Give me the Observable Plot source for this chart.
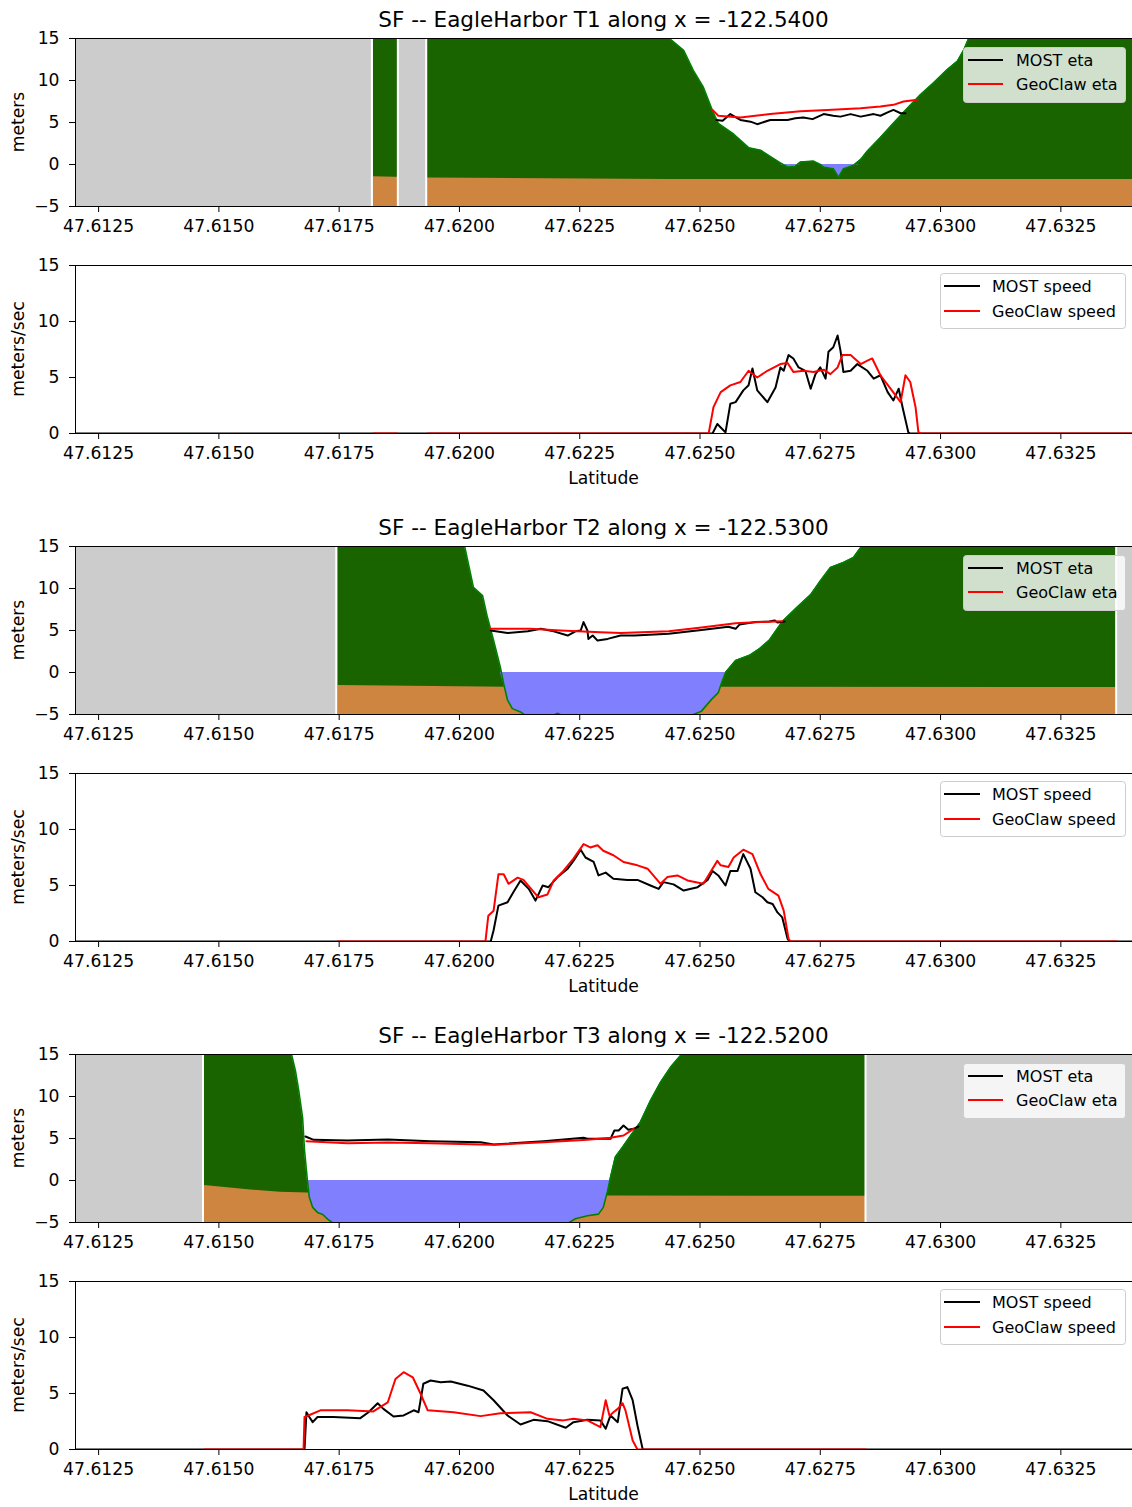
<!DOCTYPE html>
<html><head><meta charset="utf-8">
<script src="https://cdn.jsdelivr.net/npm/d3@7"></script>
<script src="https://cdn.jsdelivr.net/npm/@observablehq/plot@0.6"></script>
<style>
html,body{margin:0;padding:0;background:#fff;overflow:hidden;}
#root{position:relative;width:1132px;height:1507px;overflow:hidden;font-family:"DejaVu Sans",sans-serif;}
.panel{position:absolute;left:0;width:1140px;}
#overlay{position:absolute;left:0;top:0;pointer-events:none;}
</style></head><body><div id="root"></div>
<script>
// ---------- shared axes ----------
const latTicks = [47.6125, 47.6150, 47.6175, 47.6200, 47.6225, 47.6250, 47.6275, 47.6300, 47.6325];
const latDomain = [47.61202, 47.63401];
const etaDomain = [-5, 15];
const etaTicks = [-5, 0, 5, 10, 15];
const speedDomain = [0, 15];
const speedTicks = [0, 5, 10, 15];
const titles = [
  "SF -- EagleHarbor T1 along x = -122.5400",
  "SF -- EagleHarbor T2 along x = -122.5300",
  "SF -- EagleHarbor T3 along x = -122.5200"
];
const etaLegend = ["MOST eta", "GeoClaw eta"];
const speedLegend = ["MOST speed", "GeoClaw speed"];
const xLabel = "Latitude";
const etaYLabel = "meters";
const speedYLabel = "meters/sec";

// ---------- T1 ----------
const t1Grey = [[47.6120, 47.61819], [47.61873, 47.61932]];
const t1Topo = [[47.61821,20],[47.62426,15.5],[47.62466,13.6],[47.62486,11.2],[47.62507,9.2],[47.62526,6.4],[47.62538,4.9],[47.62568,3.7],[47.62601,2.0],[47.62626,1.7],[47.62653,0.7],[47.62667,0.2],[47.62682,-0.3],[47.62698,-0.2],[47.62709,0.3],[47.62736,0.4],[47.62750,0.0],[47.62757,-0.3],[47.62777,-0.5],[47.62788,-1.5],[47.62798,-0.5],[47.62819,-0.1],[47.62834,0.6],[47.62848,1.6],[47.62875,3.2],[47.62902,4.9],[47.62931,6.7],[47.62958,8.3],[47.62985,9.7],[47.63014,11.3],[47.63035,12.3],[47.63048,13.6],[47.63062,15.5],[47.6341,20]];
const t1Bed = [[47.61821,-1.45],[47.61934,-1.6],[47.62430,-1.8],[47.6341,-1.8]];
const t1MostEta = [[47.62534,5.3],[47.62547,5.2],[47.62563,6.0],[47.62584,5.3],[47.62605,5.1],[47.62619,4.8],[47.62646,5.3],[47.62682,5.3],[47.62698,5.5],[47.62715,5.6],[47.62734,5.4],[47.62757,6.0],[47.62777,5.8],[47.62792,5.7],[47.62813,6.0],[47.62834,5.7],[47.62861,6.0],[47.62875,5.8],[47.62890,6.2],[47.62902,6.5],[47.62917,6.1],[47.62927,6.1]];
const t1GeoEta = [[47.62526,6.5],[47.62538,5.8],[47.62584,5.6],[47.62646,6.0],[47.62709,6.35],[47.62765,6.5],[47.62834,6.7],[47.62875,6.9],[47.62902,7.1],[47.62923,7.5],[47.62952,7.7]];
const t1MostSpeed = [[47.6120,0],[47.62526,0],[47.62536,0.85],[47.62553,0.1],[47.62563,2.65],[47.62574,2.8],[47.62590,3.85],[47.62601,4.3],[47.62609,5.8],[47.62619,3.85],[47.62640,2.8],[47.62657,4.1],[47.62667,5.9],[47.62674,5.6],[47.62684,7.0],[47.62694,6.7],[47.62705,5.9],[47.62719,5.6],[47.62730,4.0],[47.62740,5.3],[47.62750,5.9],[47.62761,4.9],[47.62767,7.3],[47.62777,7.7],[47.62786,8.75],[47.62792,7.4],[47.62798,5.5],[47.62813,5.6],[47.62827,6.2],[47.62848,5.6],[47.62861,4.9],[47.62875,5.2],[47.62890,3.7],[47.62902,2.95],[47.62913,4.0],[47.62921,2.35],[47.62933,0.1],[47.62937,0],[47.6341,0]];
const t1GeoSpeed = [[47.61821,0],[47.61871,0],[47.6190,null],[47.61934,0],[47.62518,0],[47.62528,2.35],[47.62543,3.7],[47.62563,4.3],[47.62584,4.6],[47.62601,5.6],[47.62619,5.0],[47.62640,5.6],[47.62667,6.2],[47.62682,6.3],[47.62694,5.5],[47.62715,5.6],[47.62736,5.5],[47.62757,5.7],[47.62771,5.3],[47.62786,5.9],[47.62796,7.0],[47.62813,7.0],[47.62834,6.2],[47.62848,6.5],[47.62858,6.7],[47.62875,5.2],[47.62896,4.0],[47.62917,2.8],[47.62927,5.2],[47.62937,4.6],[47.62948,2.35],[47.62954,0.1],[47.62960,0],[47.6341,0]];

// ---------- T2 ----------
const t2Grey = [[47.6120, 47.61745], [47.63366, 47.6341]];
const t2Topo = [[47.61747,20],[47.62009,15.5],[47.62029,10.15],[47.62048,9.17],[47.62058,6.6],[47.62071,3.8],[47.62085,0.63],[47.62092,-1.35],[47.62100,-3.3],[47.62110,-4.3],[47.62127,-4.7],[47.62142,-5.3],[47.62179,-5.5],[47.62204,-4.85],[47.62227,-5.5],[47.62460,-5.5],[47.62478,-5.2],[47.62503,-4.6],[47.62524,-3.2],[47.62538,-2.4],[47.62545,-1.2],[47.62553,0.0],[47.62574,1.44],[47.62603,2.04],[47.62624,2.85],[47.62644,3.85],[47.62671,6.06],[47.62700,7.67],[47.62730,9.27],[47.62750,10.9],[47.62771,12.5],[47.62798,13.1],[47.62819,13.7],[47.62838,15.2],[47.62848,20],[47.6341,20]];
const t2Bed = [[47.61747,-1.55],[47.62100,-1.75],[47.6341,-1.8]];
const t2MostEta = [[47.62065,5.0],[47.62100,4.7],[47.62142,4.9],[47.62169,5.2],[47.62196,4.9],[47.62225,4.4],[47.62241,4.9],[47.62252,5.0],[47.62258,6.0],[47.62266,5.0],[47.62268,4.0],[47.62277,4.4],[47.62287,3.8],[47.62308,4.0],[47.62335,4.4],[47.62364,4.4],[47.62435,4.6],[47.62503,5.05],[47.62559,5.45],[47.62574,5.2],[47.62582,5.7],[47.62615,6.0],[47.62644,6.06],[47.62655,6.2],[47.62661,5.95],[47.62676,6.06]];
const t2GeoEta = [[47.62065,5.2],[47.62148,5.2],[47.62210,5.0],[47.62293,4.8],[47.62335,4.7],[47.62435,4.9],[47.62503,5.35],[47.62574,5.85],[47.62626,6.0],[47.62671,6.1]];
const t2MostSpeed = [[47.6120,0],[47.62065,0],[47.62071,1.0],[47.62081,3.2],[47.62100,3.5],[47.62112,4.4],[47.62127,5.45],[47.62144,4.7],[47.62158,3.65],[47.62173,5.0],[47.62185,4.85],[47.62204,5.75],[47.62225,6.5],[47.62237,7.2],[47.62252,8.2],[47.62262,7.5],[47.62279,7.1],[47.62289,5.9],[47.62304,6.15],[47.62320,5.6],[47.62349,5.5],[47.62370,5.5],[47.62397,5.0],[47.62414,4.7],[47.62424,5.3],[47.62445,5.1],[47.62466,4.55],[47.62495,4.85],[47.62516,5.5],[47.62526,6.3],[47.62538,5.9],[47.62553,5.0],[47.62563,6.3],[47.62578,6.3],[47.62590,7.8],[47.62605,6.5],[47.62615,4.4],[47.62630,3.95],[47.62640,3.5],[47.62651,3.35],[47.62661,2.6],[47.62671,2.15],[47.62682,0.25],[47.62686,0],[47.6341,0]];
const t2GeoSpeed = [[47.61747,0],[47.62054,0],[47.62060,2.3],[47.62071,2.75],[47.62081,6.0],[47.62092,6.0],[47.62102,5.15],[47.62121,5.7],[47.62133,5.5],[47.62152,4.55],[47.62164,3.95],[47.62183,4.2],[47.62196,5.45],[47.62216,6.3],[47.62237,7.4],[47.62258,8.7],[47.62272,8.4],[47.62287,8.6],[47.62299,8.1],[47.62320,7.7],[47.62341,7.1],[47.62370,6.8],[47.62391,6.5],[47.62418,5.15],[47.62432,5.75],[47.62453,5.9],[47.62474,5.45],[47.62507,5.15],[47.62536,7.2],[47.62543,6.8],[47.62559,6.65],[47.62570,7.5],[47.62590,8.2],[47.62609,7.8],[47.62626,6.0],[47.62642,4.7],[47.62663,4.1],[47.62674,2.75],[47.62684,0.25],[47.62688,0],[47.63366,0]];

// ---------- T3 ----------
const t3Grey = [[47.6120, 47.61468], [47.62845, 47.6341]];
const t3Topo = [[47.61470,20],[47.61649,15.5],[47.61659,13.1],[47.61666,10.7],[47.61674,7.5],[47.61678,3.6],[47.61684,0],[47.61688,-2.0],[47.61695,-3.2],[47.61705,-3.8],[47.61716,-4.05],[47.61726,-4.6],[47.61743,-5.3],[47.61753,-5.5],[47.62210,-5.5],[47.62225,-5.1],[47.62241,-4.56],[47.62266,-4.2],[47.62289,-4.0],[47.62299,-3.2],[47.62308,-1.2],[47.62314,0.4],[47.62324,2.8],[47.62339,3.97],[47.62356,5.36],[47.62376,6.95],[47.62397,9.5],[47.62418,11.7],[47.62439,13.5],[47.62460,14.9],[47.62468,16],[47.6341,20]];
const t3Bed = [[47.61470,-0.6],[47.61561,-1.1],[47.61628,-1.4],[47.61684,-1.5],[47.62310,-1.85],[47.6341,-1.9]];
const t3MostEta = [[47.61680,5.24],[47.61697,4.84],[47.61767,4.76],[47.61851,4.88],[47.61940,4.68],[47.62044,4.56],[47.62071,4.29],[47.62175,4.68],[47.62258,5.08],[47.62266,4.96],[47.62314,4.96],[47.62322,5.95],[47.62331,5.95],[47.62341,6.55],[47.62351,6.03],[47.62362,6.15],[47.62372,6.43]];
const t3GeoEta = [[47.61682,4.68],[47.61767,4.44],[47.61851,4.52],[47.61940,4.44],[47.62044,4.29],[47.62071,4.25],[47.62175,4.56],[47.62266,4.84],[47.62314,5.08],[47.62341,5.36],[47.62362,6.15]];
const t3MostSpeed = [[47.6120,0],[47.61678,0],[47.61682,3.33],[47.61688,2.9],[47.61695,2.44],[47.61705,2.9],[47.61738,2.9],[47.61794,2.8],[47.61811,3.33],[47.61830,4.13],[47.61842,3.63],[47.61863,2.95],[47.61884,3.04],[47.61905,3.5],[47.61915,3.33],[47.61925,5.87],[47.61940,6.16],[47.61961,6.0],[47.61982,6.07],[47.62017,5.7],[47.62050,5.27],[47.62071,4.4],[47.62100,3.04],[47.62127,2.23],[47.62154,2.65],[47.62183,2.53],[47.62221,1.94],[47.62237,2.44],[47.62266,2.65],[47.62293,2.6],[47.62304,1.85],[47.62314,3.04],[47.62329,2.44],[47.62339,5.42],[47.62349,5.57],[47.62360,4.4],[47.62370,2.14],[47.62381,0],[47.6341,0]];
const t3GeoSpeed = [[47.61470,0],[47.61676,0],[47.61678,2.9],[47.61686,3.04],[47.61711,3.5],[47.61767,3.5],[47.61821,3.4],[47.61851,4.2],[47.61867,6.3],[47.61884,6.9],[47.61903,6.45],[47.61919,5.0],[47.61934,3.5],[47.61988,3.33],[47.62044,2.98],[47.62085,3.24],[47.62148,3.33],[47.62183,2.74],[47.62216,2.6],[47.62237,2.74],[47.62266,2.6],[47.62293,2.0],[47.62304,4.4],[47.62312,3.0],[47.62320,3.33],[47.62329,3.63],[47.62339,4.13],[47.62345,3.5],[47.62360,0.8],[47.62370,0],[47.62845,0]];

// ---------- rendering ----------
const transects = [
  {grey:t1Grey, topo:t1Topo, bed:t1Bed, mostEta:t1MostEta, geoEta:t1GeoEta, mostSpeed:t1MostSpeed, geoSpeed:t1GeoSpeed},
  {grey:t2Grey, topo:t2Topo, bed:t2Bed, mostEta:t2MostEta, geoEta:t2GeoEta, mostSpeed:t2MostSpeed, geoSpeed:t2GeoSpeed},
  {grey:t3Grey, topo:t3Topo, bed:t3Bed, mostEta:t3MostEta, geoEta:t3GeoEta, mostSpeed:t3MostSpeed, geoSpeed:t3GeoSpeed}
];
const root = document.getElementById("root");
const X = d => d[0], Y = d => d[1];
const fmtY = d => d < 0 ? "\u2212" + Math.abs(d) : String(d);
const C = {land:"#1a6400", bed:"#cd853f", water:"#8080ff", shore:"#008000", grey:"#cccccc"};
const PLOT_H = 168, MT = 10, MB = 40;

function panel(top, yDomain, yTicks, marks) {
  const svg = Plot.plot({
    width: 1140, height: PLOT_H + MT + MB,
    marginTop: MT, marginBottom: MB, marginLeft: 75, marginRight: 7,
    style: {fontFamily: '"DejaVu Sans", sans-serif', fontSize: "17.2px", color: "black", background: "transparent", maxWidth: "none", overflow: "visible"},
    x: {domain: latDomain, ticks: latTicks, tickFormat: d3.format(".4f"), label: null, tickSize: 6, tickPadding: 7},
    y: {domain: yDomain, ticks: yTicks, tickFormat: fmtY, label: null, tickSize: 6, tickPadding: 10},
    marks: [...marks, Plot.frame({stroke: "black", strokeWidth: 1})]
  });
  const div = document.createElement("div");
  div.className = "panel";
  div.style.top = (top - MT) + "px";
  div.appendChild(svg);
  root.appendChild(div);
}

const GROUP = 508, ETA_TOP = 38, SPEED_TOP = 265;
transects.forEach((t, k) => {
  const off = GROUP * k;
  panel(ETA_TOP + off, etaDomain, etaTicks, [
    Plot.areaY(t.topo, {x: X, y1: etaDomain[0], y2: Y, fill: C.land, clip: true}),
    Plot.areaY(t.bed, {x: X, y1: etaDomain[0], y2: Y, fill: C.bed, clip: true}),
    Plot.areaY(t.topo, {x: X, y1: d => Math.min(d[1], 0), y2: 0, fill: C.water, clip: true}),
    Plot.line(t.topo, {x: X, y: Y, stroke: C.shore, strokeWidth: 1.6, clip: true}),
    Plot.rect(t.grey, {x1: d => d[0], x2: d => d[1], y1: etaDomain[0] - 1, y2: etaDomain[1] + 1, fill: C.grey, stroke: "white", strokeWidth: 2, clip: true}),
    Plot.line(t.mostEta, {x: X, y: Y, stroke: "black", strokeWidth: 2, clip: true}),
    Plot.line(t.geoEta, {x: X, y: Y, stroke: "red", strokeWidth: 2, clip: true})
  ]);
  panel(SPEED_TOP + off, speedDomain, speedTicks, [
    Plot.line(t.mostSpeed, {x: X, y: Y, stroke: "black", strokeWidth: 2, clip: true}),
    Plot.line(t.geoSpeed, {x: X, y: Y, stroke: "red", strokeWidth: 2, clip: true})
  ]);
});

// ---------- overlay texts & legends ----------
const ov = d3.select(root).append("svg").attr("id", "overlay")
  .attr("width", 1132).attr("height", 1507)
  .style("font-family", '"DejaVu Sans", sans-serif');

function legend(x, y, w, h, labels, lx1, lx2, tx, rows) {
  ov.append("rect").attr("x", x + 0.5).attr("y", y + 0.5).attr("width", w).attr("height", h)
    .attr("rx", 3).attr("fill", "white").attr("fill-opacity", 0.8).attr("stroke", "#cccccc");
  labels.forEach((lab, i) => {
    ov.append("line").attr("x1", lx1).attr("x2", lx2).attr("y1", rows[i]).attr("y2", rows[i])
      .attr("stroke", i === 0 ? "black" : "red").attr("stroke-width", 2);
    ov.append("text").attr("x", tx).attr("y", rows[i] + 5.8).attr("font-size", 16).attr("fill", "#000").text(lab);
  });
}

for (let k = 0; k < 3; k++) {
  const off = GROUP * k;
  ov.append("text").attr("x", 603.5).attr("y", 26.5 + off).attr("text-anchor", "middle")
    .attr("font-size", 21.5).attr("fill", "#000").text(titles[k]);
  ov.append("text").attr("transform", `translate(24,${122 + off}) rotate(-90)`).attr("text-anchor", "middle")
    .attr("font-size", 17.2).attr("fill", "#000").text(etaYLabel);
  ov.append("text").attr("transform", `translate(24,${349 + off}) rotate(-90)`).attr("text-anchor", "middle")
    .attr("font-size", 17.2).attr("fill", "#000").text(speedYLabel);
  ov.append("text").attr("x", 603.5).attr("y", 484 + off).attr("text-anchor", "middle")
    .attr("font-size", 17.2).attr("fill", "#000").text(xLabel);
  legend(963, 47 + off, 162, 55, etaLegend, 968, 1003, 1016, [60 + off, 84 + off]);
  legend(940, 273 + off, 185, 55, speedLegend, 944, 980, 992, [286 + off, 311 + off]);
}
</script></body></html>
